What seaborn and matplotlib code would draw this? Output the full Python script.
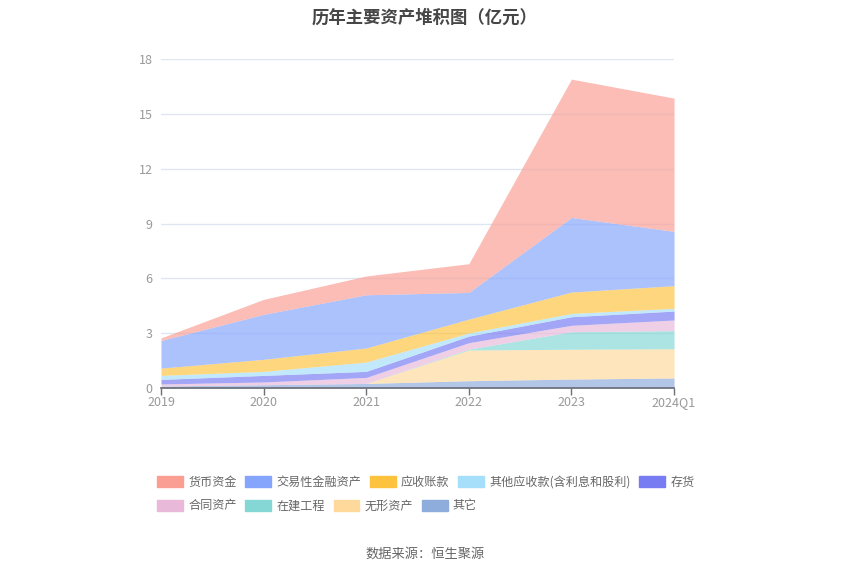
import matplotlib
matplotlib.use("Agg")
import matplotlib.pyplot as plt
import matplotlib.patches as mpatches
import pandas as pd
import seaborn as sns

# data (亿元)
years = ['2019', '2020', '2021', '2022', '2023', '2024Q1']
qita = [0.11, 0.18, 0.25, 0.40, 0.49, 0.55]          # 其它
wuxing = [0.0, 0.0, 0.0, 1.68, 1.63, 1.60]           # 无形资产
zaijian = [0.0, 0.0, 0.0, 0.05, 0.96, 0.99]          # 在建工程
hetong = [0.11, 0.15, 0.33, 0.35, 0.35, 0.58]        # 合同资产
cunhuo = [0.25, 0.36, 0.33, 0.36, 0.47, 0.49]        # 存货
qitayingshou = [0.22, 0.22, 0.51, 0.17, 0.18, 0.15]  # 其他应收款
yingshou = [0.40, 0.66, 0.77, 0.76, 1.17, 1.24]      # 应收账款
jiaoyi = [1.51, 2.46, 2.91, 1.46, 4.08, 2.97]        # 交易性金融资产
huobi = [0.14, 0.82, 1.03, 1.57, 7.57, 7.29]         # 货币资金

df = pd.DataFrame({
    '其它': qita,
    '无形资产': wuxing,
    '在建工程': zaijian,
    '合同资产': hetong,
    '存货': cunhuo,
    '其他应收款(含利息和股利)': qitayingshou,
    '应收账款': yingshou,
    '交易性金融资产': jiaoyi,
    '货币资金': huobi,
}, index=years)

colors = {
    '货币资金': '#fa9e94',
    '交易性金融资产': '#85a5fc',
    '应收账款': '#fdc33f',
    '其他应收款(含利息和股利)': '#a5dffa',
    '存货': '#787cf2',
    '合同资产': '#e8b9d9',
    '在建工程': '#85d7d6',
    '无形资产': '#fed99b',
    '其它': '#8eacdc',
}

sns.set_theme(style='white')
plt.rcParams['font.family'] = ['Noto Sans CJK SC', 'DejaVu Sans']

fig, ax = plt.subplots(figsize=(8.5, 5.75), dpi=100)
fig.subplots_adjust(left=0.1894, right=0.793, top=0.8974, bottom=0.3252)

x = list(range(len(years)))
ax.stackplot(x, *[df[c].values for c in df.columns],
             colors=[colors[c] for c in df.columns], alpha=0.68, linewidth=0)

ax.set_xlim(0, len(years) - 1)
ax.set_ylim(0, 18)
ax.set_yticks(range(0, 19, 3))
ax.set_xticks(x)
ax.set_xticklabels(years)
ax.grid(axis='y', color='#e0e6f1', linewidth=1)
ax.set_axisbelow(True)
for s in ['left', 'right', 'top']:
    ax.spines[s].set_visible(False)
ax.spines['bottom'].set_color('#6e7079')
ax.tick_params(axis='x', colors='#6e7079', labelcolor='#999999', length=5,
               width=1, direction='out', labelsize=9, pad=1, bottom=True)
ax.tick_params(axis='y', length=0, labelcolor='#999999', labelsize=9, pad=6)

fig.suptitle('历年主要资产堆积图（亿元）', x=0.5, y=0.985, fontsize=12.5,
             fontweight='bold', color='#464646')

row1 = ['货币资金', '交易性金融资产', '应收账款', '其他应收款(含利息和股利)', '存货']
row2 = ['合同资产', '在建工程', '无形资产', '其它']
for names, yy in [(row1, 0.1617), (row2, 0.12)]:
    handles = [mpatches.Patch(color=colors[n], label=n) for n in names]
    leg = fig.legend(handles=handles, loc='center left', bbox_to_anchor=(0.1847, yy),
                     ncol=len(names), frameon=False, fontsize=8.7,
                     handlelength=2.15, handleheight=1.05, handletextpad=0.42,
                     columnspacing=0.72, borderaxespad=0, borderpad=0)
    for t in leg.get_texts():
        t.set_color('#666666')

fig.text(0.5, 0.036, '数据来源：恒生聚源', ha='center', va='center',
         fontsize=9.5, color='#666666')

fig.savefig('out.png')
